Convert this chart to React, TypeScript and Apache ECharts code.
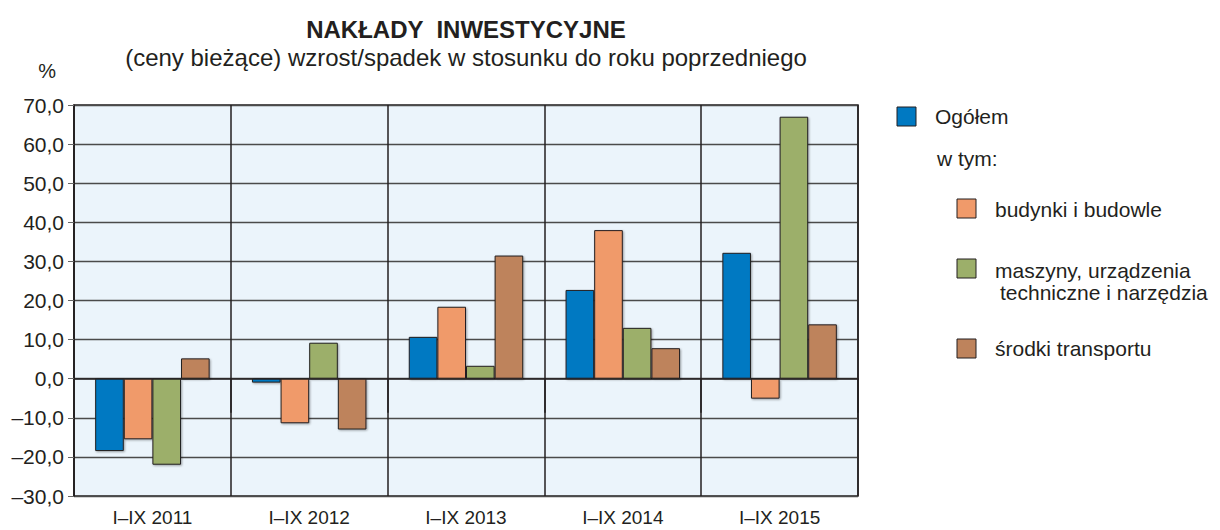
import React, { useEffect, useRef } from "react";
import * as echarts from "echarts";

const categories = ["I–IX 2011", "I–IX 2012", "I–IX 2013", "I–IX 2014", "I–IX 2015"];
const ogolem = [-18.5, -1.0, 10.7, 22.7, 32.2];
const budynki = [-15.5, -11.4, 18.4, 38.0, -5.1];
const maszyny = [-22.0, 9.2, 3.3, 13.0, 67.0];
const transport = [5.2, -13.0, 31.5, 7.8, 13.9];

const seriesNames = ["Ogółem", "budynki i budowle", "maszyny, urządzenia techniczne i narzędzia", "środki transportu"];
const colors = ["#0079C2", "#F09A6A", "#9CAF6A", "#BE835C"];

const FONT = "'Liberation Sans', Arial, sans-serif";
const TXT = "#231F20";

export default function App() {
  const ref = useRef<HTMLDivElement>(null);
  useEffect(() => {
    document.body.style.margin = "0";
    const chart = echarts.init(ref.current!, null, { renderer: "svg" });
    const data = [ogolem, budynki, maszyny, transport];
    const legendText = (x: number, y: number, t: string) => ({
      type: "text",
      x,
      y,
      style: { text: t, font: `21px ${FONT}`, fill: TXT, textVerticalAlign: "middle" },
    });
    const legendRect = (x: number, y: number, c: string) => ({
      type: "rect",
      shape: { x, y, width: 19, height: 19 },
      style: { fill: c, stroke: TXT, lineWidth: 1 },
    });
    chart.setOption({
      animation: false,
      textStyle: { fontFamily: FONT },
      title: [
        {
          text: "NAKŁADY  INWESTYCYJNE",
          left: 461,
          top: 12,
          textAlign: "center",
          textStyle: { fontSize: 24, fontWeight: "bold", color: TXT, fontFamily: FONT },
        },
        {
          text: "(ceny bieżące) wzrost/spadek w stosunku do roku poprzedniego",
          left: 461,
          top: 40,
          textAlign: "center",
          textStyle: { fontSize: 24, fontWeight: "normal", color: TXT, fontFamily: FONT },
        },
      ],
      grid: {
        left: 74,
        top: 105,
        width: 784,
        height: 391,
        show: true,
        backgroundColor: "#EBF4FB",
        borderColor: TXT,
        borderWidth: 1.5,
      },
      xAxis: {
        type: "category",
        data: categories,
        axisLine: { show: true, lineStyle: { color: TXT, width: 1.5 } },
        axisTick: {
          show: true,
          length: 34,
          lineStyle: { color: TXT, width: 1.5 },
          interval: (i: number) => i > 0 && i < categories.length,
        },
        axisLabel: { color: TXT, fontSize: 19, margin: 12, fontFamily: FONT },
        splitLine: { show: true, lineStyle: { color: TXT, width: 1.5 } },
      },
      yAxis: {
        type: "value",
        min: -30,
        max: 70,
        interval: 10,
        name: "%",
        nameLocation: "end",
        nameGap: 24,
        nameTextStyle: { color: TXT, fontSize: 20, align: "right", padding: [0, 18, 0, 0], fontFamily: FONT },
        axisLine: { show: true, lineStyle: { color: TXT, width: 1.5 } },
        axisTick: { show: true, length: 6, lineStyle: { color: "#666" } },
        axisLabel: {
          color: TXT,
          fontSize: 21,
          margin: 10,
          fontFamily: FONT,
          formatter: (v: number) => v.toFixed(1).replace(".", ",").replace("-", "–"),
        },
        splitLine: { show: true, lineStyle: { color: "#4a4a4a", width: 1.3 } },
      },
      series: data.map((d, i) => ({
        name: seriesNames[i],
        type: "bar",
        data: d,
        barGap: "0%",
        barCategoryGap: "27%",
        itemStyle: {
          color: colors[i],
          borderColor: TXT,
          borderWidth: 1,
          shadowColor: "rgba(0,0,0,0.35)",
          shadowBlur: 2,
          shadowOffsetX: 1,
          shadowOffsetY: 1,
        },
      })),
      graphic: [
        legendRect(897, 107, colors[0]),
        legendText(935, 116, "Ogółem"),
        legendText(937, 158, "w tym:"),
        legendRect(957, 199, colors[1]),
        legendText(995, 209, "budynki i budowle"),
        legendRect(957, 259, colors[2]),
        legendText(995, 270, "maszyny, urządzenia"),
        legendText(1000, 292, "techniczne i narzędzia"),
        legendRect(957, 339, colors[3]),
        legendText(995, 348, "środki transportu"),
      ],
    });
    return () => chart.dispose();
  }, []);
  return <div ref={ref} style={{ width: 1220, height: 530 }} />;
}
